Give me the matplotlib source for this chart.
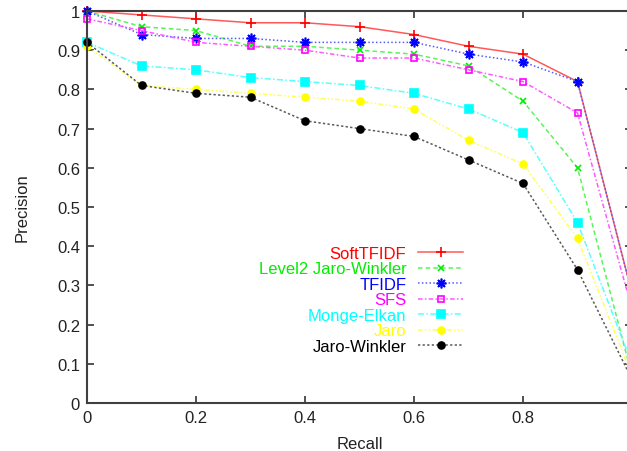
import numpy as np
import matplotlib
matplotlib.use("Agg")
import matplotlib.pyplot as plt
from matplotlib.colors import to_rgb

plt.rcParams['font.family'] = ['Liberation Sans', 'DejaVu Sans']

# Data
recall = [0.0, 0.1, 0.2, 0.3, 0.4, 0.5, 0.6, 0.7, 0.8, 0.9, 1.0]
soft_tfidf = [1.00, 0.99, 0.98, 0.97, 0.97, 0.96, 0.94, 0.91, 0.89, 0.82, 0.28]
level2_jw = [1.00, 0.96, 0.95, 0.91, 0.91, 0.90, 0.89, 0.86, 0.77, 0.60, 0.07]
tfidf = [1.00, 0.94, 0.93, 0.93, 0.92, 0.92, 0.92, 0.89, 0.87, 0.82, 0.28]
sfs = [0.98, 0.95, 0.92, 0.91, 0.90, 0.88, 0.88, 0.85, 0.82, 0.74, 0.24]
monge_elkan = [0.92, 0.86, 0.85, 0.83, 0.82, 0.81, 0.79, 0.75, 0.69, 0.46, 0.10]
jaro = [0.91, 0.81, 0.80, 0.79, 0.78, 0.77, 0.75, 0.67, 0.61, 0.42, 0.07]
jaro_winkler = [0.92, 0.81, 0.79, 0.78, 0.72, 0.70, 0.68, 0.62, 0.56, 0.34, 0.06]

labels = ['SoftTFIDF', 'Level2 Jaro-Winkler', 'TFIDF', 'SFS',
          'Monge-Elkan', 'Jaro', 'Jaro-Winkler']
series = [soft_tfidf, level2_jw, tfidf, sfs, monge_elkan, jaro, jaro_winkler]
colors = ['#ff0000', '#00ee00', '#0000ff', '#ff00ff', '#00ffff', '#ffff00', '#000000']
styles = ['-', (0, (3, 2)), (0, (1, 1.5)), (0, (3, 1.5, 1, 1.5)),
          (0, (4, 1.5, 1, 1.5)), (0, (3, 1.5, 1, 1.5, 1, 1.5)), (0, (1.5, 1.5))]
markers = ['+', 'x', (8, 2, 0), 's', 's', 'o', 'o']
msizes = [7, 5, 7, 5, 6, 5, 5]
filled = [True, True, True, False, True, True, True]


def lighten(c, amt):
    r = np.array(to_rgb(c))
    return tuple(r + (1 - r) * amt)


fig = plt.figure(figsize=(6.27, 4.52), dpi=100)
ax = fig.add_axes([87 / 627, 48 / 452, 545 / 627, 392 / 452])

for y, lab, c, ls, m, ms, f in zip(series, labels, colors, styles, markers, msizes, filled):
    ax.plot(recall, y, linestyle=ls, color=lighten(c, 0.35), lw=1.1,
            marker=m, markersize=ms, markeredgecolor=c,
            markerfacecolor=c if f else 'none', markeredgewidth=1.2,
            label=lab, clip_on=False)

ax.set_xlim(0, 1)
ax.set_ylim(0, 1)
ax.set_xticks([0, 0.2, 0.4, 0.6, 0.8, 1.0])
ax.set_xticklabels(['0', '0.2', '0.4', '0.6', '0.8', ''])
ax.set_yticks(np.arange(0, 1.01, 0.1))
ax.set_yticklabels(['0', '0.1', '0.2', '0.3', '0.4', '0.5', '0.6', '0.7', '0.8', '0.9', '1'])
ax.tick_params(direction='in', top=True, right=True, length=5, width=1.2,
               color='#333333', labelsize=12, labelcolor='#222222', pad=5)
for s in ax.spines.values():
    s.set_color('#404040')
    s.set_linewidth(1.5)

ax.set_xlabel('Recall', fontsize=12, color='#222222', labelpad=8)
ax.set_ylabel('Precision', fontsize=12, color='#222222', labelpad=20)

leg = ax.legend(loc='center right', bbox_to_anchor=(0.69, 0.263), frameon=False,
                markerfirst=False, labelcolor='markeredgecolor', fontsize=12,
                handlelength=2.7, handletextpad=0.7, labelspacing=0.03,
                borderaxespad=0, borderpad=0)

fig.savefig('out.png', dpi=100)
